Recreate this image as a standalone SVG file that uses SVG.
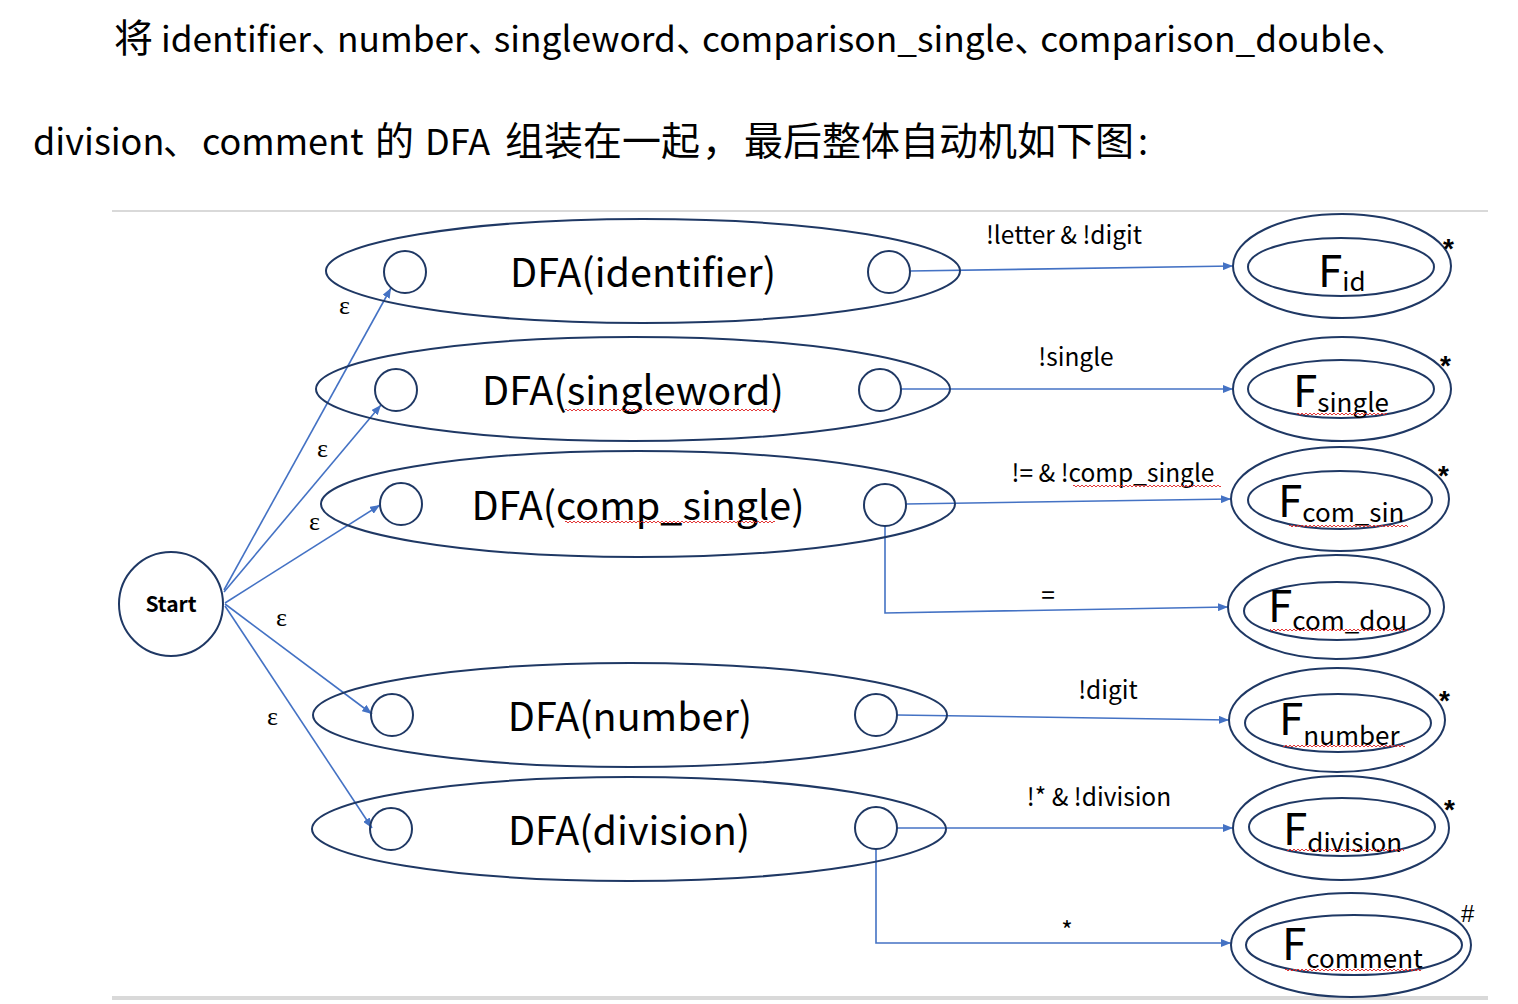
<svg xmlns="http://www.w3.org/2000/svg" width="1518" height="1004" viewBox="0 0 1518 1004">
<style>
.txt{font-family:"Noto Sans CJK SC","Noto Sans",sans-serif;fill:#000;font-size:36px}
.lat{font-size:35.3px}
.cjk{font-size:39px}
.dun{letter-spacing:-10px}
.dfa{fill:none;stroke:#1F3864;stroke-width:2}
.st{fill:#fff;stroke:#1F3864;stroke-width:2}
.big{font-family:"Noto Sans CJK SC","Noto Sans",sans-serif;font-size:39.5px;fill:#000}
.lbl{font-family:"Noto Sans CJK SC","Noto Sans",sans-serif;font-size:24.5px;fill:#000}
.eps{font-family:"Liberation Serif",serif;font-size:26px;fill:#000}
.star{font-family:"Liberation Sans",sans-serif;font-size:28px;font-weight:bold;fill:#000}
.F{font-family:"Noto Sans CJK SC","Noto Sans",sans-serif;font-size:44px;fill:#000}
.sub{font-size:26px}
.edge{stroke:#4472C4;stroke-width:1.6;fill:none}
</style>
<defs>
<marker id="arr" markerWidth="10" markerHeight="8" refX="10" refY="4" orient="auto" markerUnits="userSpaceOnUse">
<path d="M0,0 L10,4 L0,8 z" fill="#4472C4"/>
</marker>
<pattern id="sq" width="4" height="4" patternUnits="userSpaceOnUse">
<path d="M0,3 L2,1 L4,3" stroke="#E02020" stroke-width="0.9" fill="none"/>
</pattern>
</defs>

<g id="heading">
<text class="txt" x="114" y="52"><tspan class="cjk">将</tspan><tspan class="lat"> identifier</tspan><tspan class="dun">、</tspan><tspan class="lat">number</tspan><tspan class="dun">、</tspan><tspan class="lat">singleword</tspan><tspan class="dun">、</tspan><tspan class="lat">comparison_single</tspan><tspan class="dun">、</tspan><tspan class="lat">comparison_double</tspan><tspan>、</tspan></text>
<text class="txt" y="155"><tspan x="33">division</tspan><tspan x="163">、</tspan><tspan x="202">comment</tspan><tspan x="375" class="cjk">的</tspan><tspan x="425">DFA</tspan><tspan x="505" class="cjk">组装在一起</tspan><tspan x="702" class="cjk">，</tspan><tspan x="744" class="cjk">最后整体自动机如下图</tspan><tspan dx="4">:</tspan></text>
</g>

<line x1="112" y1="211" x2="1488" y2="211" stroke="#d9d9d9" stroke-width="2"/>
<line x1="112" y1="998" x2="1488" y2="998" stroke="#d9d9d9" stroke-width="4"/>

<g id="connectors">
<line class="edge" x1="224" y1="590" x2="391" y2="288" marker-end="url(#arr)"/>
<line class="edge" x1="224" y1="592" x2="381" y2="405" marker-end="url(#arr)"/>
<line class="edge" x1="225" y1="603" x2="380" y2="505" marker-end="url(#arr)"/>
<line class="edge" x1="225" y1="604" x2="372" y2="714" marker-end="url(#arr)"/>
<line class="edge" x1="225" y1="606" x2="372" y2="828" marker-end="url(#arr)"/>
<line class="edge" x1="910" y1="271" x2="1233" y2="266" marker-end="url(#arr)"/>
<line class="edge" x1="901" y1="389" x2="1233" y2="389" marker-end="url(#arr)"/>
<line class="edge" x1="906" y1="504" x2="1231" y2="499" marker-end="url(#arr)"/>
<polyline class="edge" points="885,526 885,613 1228,607" marker-end="url(#arr)"/>
<line class="edge" x1="897" y1="715" x2="1229" y2="720" marker-end="url(#arr)"/>
<line class="edge" x1="897" y1="828" x2="1233" y2="828" marker-end="url(#arr)"/>
<polyline class="edge" points="876,849 876,943 1231,943" marker-end="url(#arr)"/>
<text class="eps" x="339" y="314">ε</text>
<text class="eps" x="317" y="457">ε</text>
<text class="eps" x="309" y="530">ε</text>
<text class="eps" x="276" y="626">ε</text>
<text class="eps" x="267" y="725">ε</text>
<text class="lbl" x="1064" y="244" text-anchor="middle">!letter &amp; !digit</text>
<text class="lbl" x="1076" y="366" text-anchor="middle">!single</text>
<text class="lbl" x="1113" y="482" text-anchor="middle">!= &amp; !comp_single</text>
<rect x="1073" y="484" width="148" height="4" fill="url(#sq)"/>
<text class="lbl" x="1048" y="604" text-anchor="middle">=</text>
<text class="lbl" x="1108" y="699" text-anchor="middle">!digit</text>
<text class="lbl" x="1099" y="806" text-anchor="middle">!* &amp; !division</text>
<text class="lbl" x="1067" y="940" text-anchor="middle">*</text>
</g>

<g id="start">
<circle class="st" cx="171" cy="604" r="52"/>
<text x="171" y="612" text-anchor="middle" font-family="Noto Sans CJK SC, Noto Sans, sans-serif" font-size="21" font-weight="bold">Start</text>
</g>

<g id="dfa-identifier">
<ellipse class="dfa" cx="643" cy="271" rx="317" ry="52"/>
<ellipse class="dfa" cx="405" cy="272" rx="21" ry="21"/>
<ellipse class="dfa" cx="889" cy="272" rx="21" ry="21"/>
<text class="big" x="643" y="287" text-anchor="middle">DFA(identifier)</text>
</g>
<g id="dfa-singleword">
<ellipse class="dfa" cx="633" cy="389" rx="317" ry="52"/>
<ellipse class="dfa" cx="396" cy="390" rx="21" ry="21"/>
<ellipse class="dfa" cx="880" cy="390" rx="21" ry="21"/>
<text class="big" x="633" y="405" text-anchor="middle">DFA(singleword)</text>
<rect x="565" y="408" width="212" height="4" fill="url(#sq)"/>
</g>
<g id="dfa-comp-single">
<ellipse class="dfa" cx="638" cy="504" rx="317" ry="53"/>
<ellipse class="dfa" cx="401" cy="504" rx="21" ry="21"/>
<ellipse class="dfa" cx="885" cy="505" rx="21" ry="21"/>
<text class="big" x="638" y="520" text-anchor="middle">DFA(comp_single)</text>
<rect x="565" y="520" width="210" height="4" fill="url(#sq)"/>
</g>
<g id="dfa-number">
<ellipse class="dfa" cx="630" cy="715" rx="317" ry="52"/>
<ellipse class="dfa" cx="392" cy="715" rx="21" ry="21"/>
<ellipse class="dfa" cx="876" cy="715" rx="21" ry="21"/>
<text class="big" x="630" y="731" text-anchor="middle">DFA(number)</text>
</g>
<g id="dfa-division">
<ellipse class="dfa" cx="629" cy="829" rx="317" ry="52"/>
<ellipse class="dfa" cx="391" cy="829" rx="21" ry="21"/>
<ellipse class="dfa" cx="876" cy="828" rx="21" ry="21"/>
<text class="big" x="629" y="845" text-anchor="middle">DFA(division)</text>
</g>

<g id="f-id">
<ellipse class="dfa" cx="1342" cy="266" rx="109" ry="52"/>
<ellipse class="dfa" cx="1341" cy="267" rx="93" ry="29"/>
<text class="F" x="1318" y="287">F<tspan class="sub" dy="4">id</tspan></text>
<text class="star" x="1443" y="258">*</text>
</g>
<g id="f-single">
<ellipse class="dfa" cx="1342" cy="389" rx="109" ry="52"/>
<ellipse class="dfa" cx="1341" cy="389" rx="93" ry="29"/>
<text class="F" x="1293" y="407">F<tspan class="sub" dy="5">single</tspan></text>
<rect x="1297" y="412" width="90" height="4" fill="url(#sq)"/>
<text class="star" x="1440" y="375">*</text>
</g>
<g id="f-com-sin">
<ellipse class="dfa" cx="1340" cy="499" rx="109" ry="52"/>
<ellipse class="dfa" cx="1340" cy="500" rx="92" ry="29"/>
<text class="F" x="1278" y="517">F<tspan class="sub" dy="5">com_sin</tspan></text>
<rect x="1289" y="524" width="119" height="4" fill="url(#sq)"/>
<text class="star" x="1438" y="485">*</text>
</g>
<g id="f-com-dou">
<ellipse class="dfa" cx="1336" cy="607" rx="108" ry="52"/>
<ellipse class="dfa" cx="1337" cy="611" rx="93" ry="29"/>
<text class="F" x="1268" y="622">F<tspan class="sub" dy="8">com_dou</tspan></text>
<rect x="1270" y="628" width="138" height="4" fill="url(#sq)"/>
</g>
<g id="f-number">
<ellipse class="dfa" cx="1337" cy="720" rx="108" ry="52"/>
<ellipse class="dfa" cx="1338" cy="723" rx="93" ry="29"/>
<text class="F" x="1279" y="735">F<tspan class="sub" dy="10">number</tspan></text>
<rect x="1283" y="744" width="122" height="4" fill="url(#sq)"/>
<text class="star" x="1439" y="710">*</text>
</g>
<g id="f-division">
<ellipse class="dfa" cx="1341" cy="828" rx="108" ry="52"/>
<ellipse class="dfa" cx="1342" cy="827" rx="93" ry="29"/>
<text class="F" x="1283" y="845">F<tspan class="sub" dy="7">division</tspan></text>
<rect x="1287" y="848" width="117" height="4" fill="url(#sq)"/>
<text class="star" x="1444" y="819">*</text>
</g>
<g id="f-comment">
<ellipse class="dfa" cx="1351" cy="945" rx="120" ry="52"/>
<ellipse class="dfa" cx="1354" cy="945" rx="108" ry="30"/>
<text class="F" x="1282" y="960">F<tspan class="sub" dy="8">comment</tspan></text>
<rect x="1285" y="968" width="136" height="4" fill="url(#sq)"/>
<text x="1461" y="922" font-family="Liberation Sans, sans-serif" font-size="24" fill="#000">#</text>
</g>
</svg>
